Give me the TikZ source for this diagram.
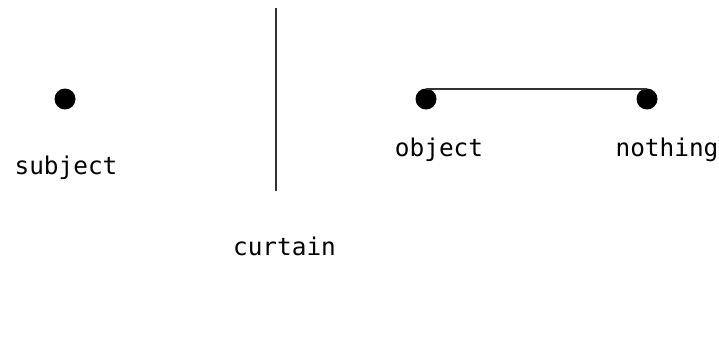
\documentclass[tikz,border=0pt]{standalone}
\usepackage{fontspec}
\setmonofont{DejaVu Sans Mono}
\begin{document}
\begin{tikzpicture}[x=1bp,y=-1bp,
  dotnode/.style={circle,fill=black,inner sep=0pt,minimum size=21bp},
  lbl/.style={font=\ttfamily\fontsize{24.5}{24.5}\selectfont,inner sep=0pt,anchor=base},
  thin line/.style={line width=1.5bp,draw=black!80}]
\useasboundingbox (0,0) rectangle (719,349);
\node[dotnode] (subj) at (65,99) {};
\node[dotnode] (obj) at (426,99) {};
\node[dotnode] (noth) at (647,99) {};
\coordinate (ctop) at (276,8);
\coordinate (cbot) at (276,191);
\draw[thin line] (ctop) -- (cbot);
\draw[thin line] ([yshift=10bp]obj.center) -- ([yshift=10bp]noth.center);
\node[lbl] (ls) at (66,174) {subject};
\node[lbl] (lo) at (439,156) {object};
\node[lbl] (ln) at (667,156) {nothing};
\node[lbl] (lc) at (284.5,255) {curtain};
\end{tikzpicture}
\end{document}
